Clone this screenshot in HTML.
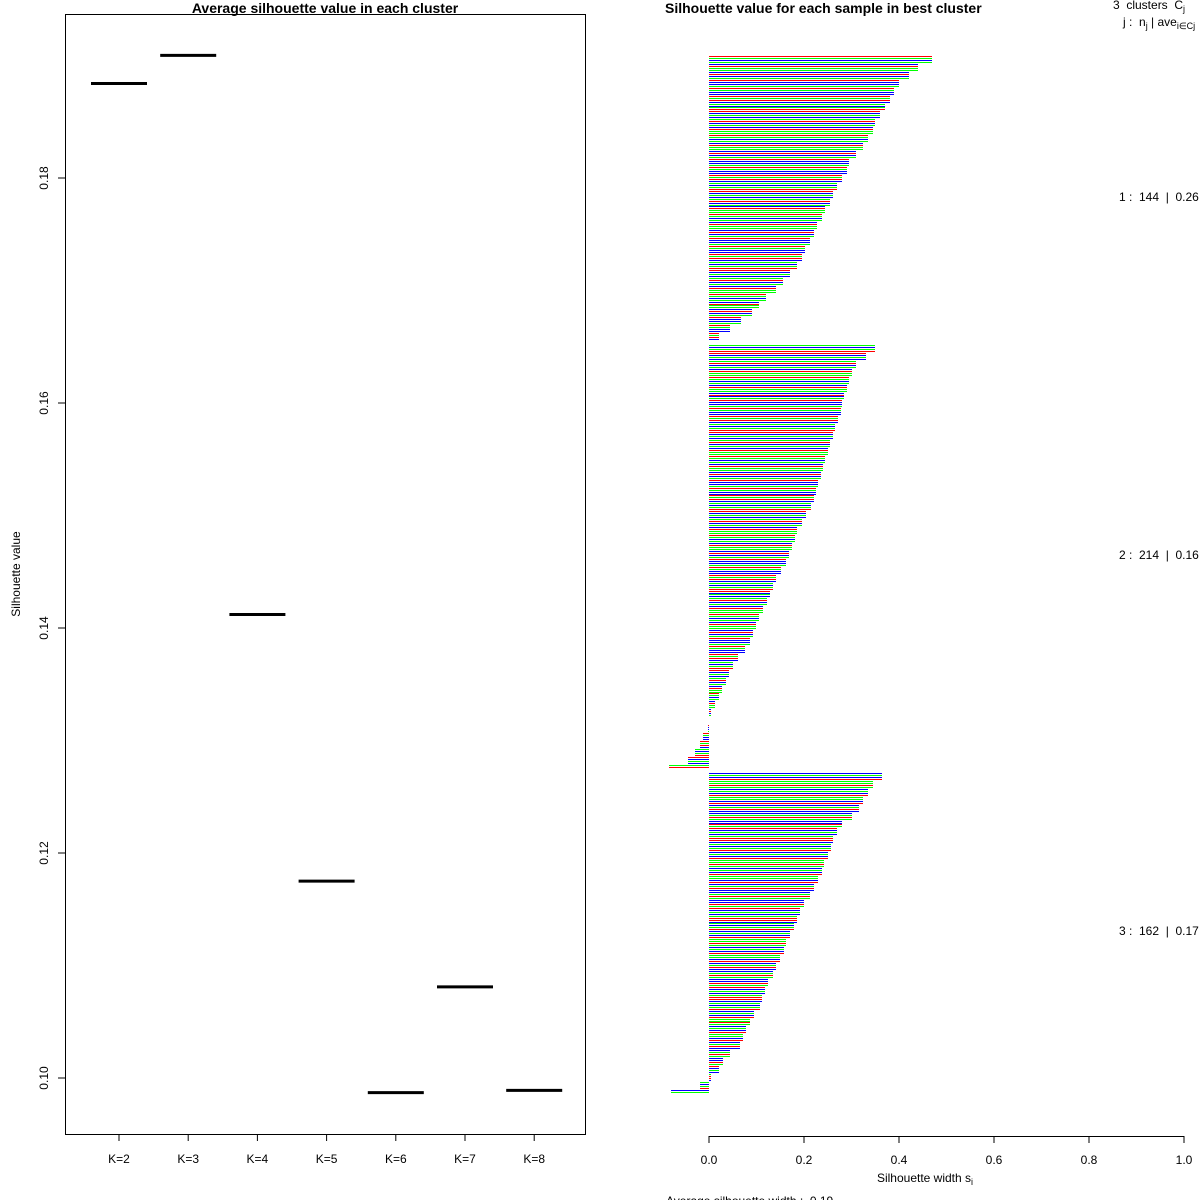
<!DOCTYPE html>
<html><head><meta charset="utf-8"><style>
html,body{margin:0;padding:0;background:#fff;}
svg{display:block;font-family:"Liberation Sans",Arial,sans-serif;}
text{white-space:pre;}
</style></head><body>
<svg id="chart" width="1200" height="1200" viewBox="0 0 1200 1200">
<g id="left"></g>
<g id="right"></g>
</svg>
<script>
// ---- Left chart data ----
const kLabels = ["K=2","K=3","K=4","K=5","K=6","K=7","K=8"];
const avgSil = [0.1884,0.1909,0.1412,0.1175,0.0987,0.1081,0.0989];
const yTicks = [0.10,0.12,0.14,0.16,0.18];
const yTickLabels = ["0.10","0.12","0.14","0.16","0.18"];

// ---- Right chart data (each entry = 4 consecutive samples, sorted) ----
const cluster1Vals = [0.47,0.44,0.42,0.40,0.39,0.38,0.37,0.36,0.35,0.345,0.335,0.325,0.31,0.295,0.29,0.28,0.27,0.262,0.255,0.245,0.237,0.228,0.22,0.212,0.203,0.195,0.186,0.17,0.155,0.14,0.12,0.105,0.09,0.068,0.045,0.02];
const cluster2Vals = [0.35,0.33,0.31,0.30,0.295,0.29,0.285,0.28,0.277,0.272,0.265,0.26,0.255,0.25,0.245,0.24,0.235,0.23,0.226,0.222,0.215,0.205,0.195,0.186,0.182,0.175,0.168,0.162,0.152,0.142,0.135,0.128,0.122,0.113,0.105,0.098,0.093,0.087,0.075,0.06,0.05,0.042,0.035,0.027,0.02,0.012,0.004,0,-0.003,-0.013,-0.02,-0.03,-0.045,-0.085];
const cluster3Vals = [0.365,0.345,0.335,0.325,0.315,0.30,0.28,0.27,0.262,0.256,0.25,0.243,0.237,0.23,0.222,0.212,0.20,0.192,0.185,0.178,0.17,0.163,0.157,0.15,0.142,0.135,0.125,0.118,0.112,0.108,0.095,0.086,0.078,0.072,0.065,0.045,0.03,0.02,0.005,-0.02,-0.08];
const clusterSizes = [144,214,162];
const clusterAvg = ["0.26","0.16","0.17"];
const xTicks = [0,0.2,0.4,0.6,0.8,1.0];
const xTickLabels = ["0.0","0.2","0.4","0.6","0.8","1.0"];
const colorSeq = "rgbgbrggbrbgrbbgrgbbrgrbgbgrrbgbgrbgbrgg";

const NS="http://www.w3.org/2000/svg";
function mk(tag, attrs, parent, text){
  const e=document.createElementNS(NS,tag);
  for(const k in attrs) e.setAttribute(k,attrs[k]);
  if(text!==undefined) e.textContent=text;
  parent.appendChild(e); return e;
}
const L=document.getElementById('left');
const R=document.getElementById('right');

// ---- Left axes ----
const yScale=v=>178+(0.18-v)/0.02*225;
const xScaleK=i=>119+i*69.2;
let box=mk('rect',{x:65.5,y:14.5,width:520,height:1120,fill:'none',stroke:'#000','stroke-width':1},L);


let t=mk('text',{x:325,y:13,'text-anchor':'middle','font-size':14,'font-weight':'bold'},L,"Average silhouette value in each cluster");


t=mk('text',{x:20,y:574,'text-anchor':'middle','font-size':12,transform:'rotate(-90 20 574)'},L,"Silhouette value");


yTicks.forEach((v,i)=>{
  const y=yScale(v);
  const tk=mk('line',{x1:58,x2:65,y1:y,y2:y,stroke:'#000'},L);
  
  
  const lb=mk('text',{x:48,y:y,'text-anchor':'middle','font-size':12,transform:`rotate(-90 48 ${y})`},L,yTickLabels[i]);
  
  
});
kLabels.forEach((k,i)=>{
  const x=xScaleK(i);
  const tk=mk('line',{x1:x,x2:x,y1:1134,y2:1141,stroke:'#000'},L);
  
  
  const lb=mk('text',{x:x,y:1163,'text-anchor':'middle','font-size':12},L,k);
  
  
  const y=yScale(avgSil[i]);
  const seg=mk('line',{x1:x-28,x2:x+28,y1:y,y2:y,stroke:'#000','stroke-width':3},L);
  
  
});

// ---- Right panel ----
const xS=v=>709+v*475;
const colMap={r:'#ff0000',g:'#00ff00',b:'#0000ff'};
t=mk('text',{x:665,y:13,'font-size':14,'font-weight':'bold'},R,"Silhouette value for each sample in best cluster");


const clusters=[cluster1Vals,cluster2Vals,cluster3Vals];
const starts=[56,345,773];
const pitch=1.98;
let ci=0;
clusters.forEach((vals,c)=>{
  const g=mk('g',{'shape-rendering':'crispEdges'},R);
  
  
  let n=0;
  vals.forEach(v=>{
    for(let k=0;k<4 && n<clusterSizes[c];k++,n++){
      const y=Math.round(starts[c]+n*pitch);
      const x0=Math.round(xS(Math.min(0,v))), x1=Math.round(xS(Math.max(0,v)));
      if(x1-x0<1) continue;
      const col=colMap[colorSeq[ci++%colorSeq.length]];
      const b=mk('rect',{x:x0,y:y,width:x1-x0,height:1,fill:col},g);
      
      
    }
  });
  const lbl=mk('text',{x:1119,y:[201,559,935][c],'font-size':12},R,`${c+1} :  ${clusterSizes[c]}  |  ${clusterAvg[c]}`);
  
  
});
let ax=mk('line',{x1:xS(0),x2:xS(1),y1:1136.5,y2:1136.5,stroke:'#000'},R);


xTicks.forEach((v,i)=>{
  const x=xS(v);
  const tk=mk('line',{x1:x,x2:x,y1:1136,y2:1143,stroke:'#000'},R);
  
  
  const lb=mk('text',{x:x,y:1164,'text-anchor':'middle','font-size':12},R,xTickLabels[i]);
  
  
});
t=mk('text',{x:925,y:1182,'text-anchor':'middle','font-size':12},R,"Silhouette width s");


mk('tspan',{'font-size':9,dy:3},t,"i");
t=mk('text',{x:666,y:1205,'font-size':12},R,"Average silhouette width :  0.19");


t=mk('text',{x:1113,y:9,'font-size':12},R,"3  clusters  C");


mk('tspan',{'font-size':9,dy:3},t,"j");
t=mk('text',{x:1123,y:26,'font-size':12},R,"j :  n");


mk('tspan',{'font-size':9,dy:3},t,"j");
mk('tspan',{dy:-3},t," | ave");
mk('tspan',{'font-size':9,dy:3},t,"i∈Cj");
mk('tspan',{dy:-3},t,"  s");
</script>
</body></html>
